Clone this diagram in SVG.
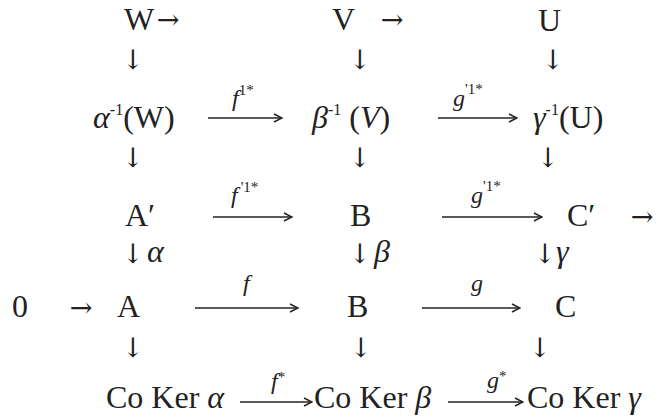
<svg xmlns="http://www.w3.org/2000/svg" width="656" height="419" viewBox="0 0 656 419">
<style>
text{font-family:"Liberation Serif","Times New Roman",serif;fill:#222;}
.n{font-size:32px;}
.b{font-size:32px;}
.i{font-style:italic;}
.sup{font-size:16px;}
.lab{font-size:24px;font-style:italic;}
.ls{font-size:15px;font-style:normal;}
.ar{font-family:"DejaVu Serif","DejaVu Sans",serif;font-size:27px;text-anchor:middle;fill:#222;}
.c{stroke:#222;stroke-width:1.6;fill:none;marker-end:url(#ah);}
</style>
<defs>
<marker id="ah" viewBox="0 0 10 10" refX="9" refY="5" markerWidth="10" markerHeight="10" markerUnits="userSpaceOnUse" orient="auto">
<path d="M1,1 L9,5 L1,9" fill="none" stroke="#222" stroke-width="1.4"/>
</marker>
</defs>
<rect width="656" height="419" fill="#fff"/>
<g id="connectors">
<line class="c" x1="208" y1="118" x2="282" y2="118"/>
<line class="c" x1="438" y1="118" x2="517" y2="118"/>
<line class="c" x1="213" y1="217" x2="292" y2="217"/>
<line class="c" x1="442" y1="217" x2="542" y2="217"/>
<line class="c" x1="195" y1="308" x2="298" y2="308"/>
<line class="c" x1="422" y1="308" x2="520" y2="308"/>
<line class="c" x1="240" y1="402" x2="312" y2="402"/>
<line class="c" x1="448" y1="402" x2="523" y2="402"/>
<text class="ar" x="168" y="29">→</text>
<text class="ar" x="392" y="29">→</text>
<text class="ar" x="133" y="69">↓</text>
<text class="ar" x="360" y="69">↓</text>
<text class="ar" x="553" y="69">↓</text>
<text class="ar" x="133" y="167">↓</text>
<text class="ar" x="360" y="167">↓</text>
<text class="ar" x="548" y="167">↓</text>
<text class="ar" x="133" y="263">↓</text>
<text class="ar" x="360" y="263">↓</text>
<text class="ar" x="545" y="263">↓</text>
<text class="ar" x="133" y="357">↓</text>
<text class="ar" x="361" y="357">↓</text>
<text class="ar" x="540" y="357">↓</text>
<text class="ar" x="642" y="226">→</text>
<text class="ar" x="81" y="317">→</text>
<text class="lab" x="232" y="106">f<tspan class="ls" dy="-11">1*</tspan></text>
<text class="lab" x="453" y="106">g<tspan class="ls" dy="-12">'1*</tspan></text>
<text class="lab" x="231" y="203">f<tspan class="ls" dx="3" dy="-11">'1*</tspan></text>
<text class="lab" x="471" y="203">g<tspan class="ls" dy="-12">'1*</tspan></text>
<text class="lab" x="243" y="291">f</text>
<text class="lab" x="471" y="291">g</text>
<text class="lab" x="271" y="389">f<tspan class="ls" dy="-7">*</tspan></text>
<text class="lab" x="487" y="388">g<tspan class="ls" dy="-7">*</tspan></text>
</g>
<g id="W"><text class="n" x="124" y="30">W</text></g>
<g id="V"><text class="n" x="332" y="30">V</text></g>
<g id="U"><text class="n" x="538" y="31">U</text></g>
<g id="alphaInvW"><text class="n" x="93" y="128"><tspan class="i">α</tspan><tspan class="sup" dy="-13">-1</tspan><tspan dy="13">(W)</tspan></text></g>
<g id="betaInvV"><text class="n" x="312" y="128"><tspan class="i">β</tspan><tspan class="sup" dy="-13">-1</tspan><tspan dy="13"> (</tspan><tspan class="i">V</tspan>)</text></g>
<g id="gammaInvU"><text class="n" x="533" y="128"><tspan class="i">γ</tspan><tspan class="sup" dy="-13">-1</tspan><tspan dy="13">(U)</tspan></text></g>
<g id="Aprime"><text class="n" x="125" y="226">A′</text></g>
<g id="B1"><text class="n" x="350" y="226">B</text></g>
<g id="Cprime"><text class="n" x="567" y="226">C′</text></g>
<g id="alphaLabel"><text class="n i" x="147" y="262">α</text></g>
<g id="betaLabel"><text class="n i" x="374" y="262">β</text></g>
<g id="gammaLabel"><text class="n i" x="556" y="262">γ</text></g>
<g id="zero"><text class="n" x="12" y="317">0</text></g>
<g id="A"><text class="n" x="117" y="317">A</text></g>
<g id="B2"><text class="n" x="347" y="317">B</text></g>
<g id="C"><text class="n" x="555" y="317">C</text></g>
<g id="CoKerAlpha"><text class="b" x="106" y="408">Co Ker <tspan class="i">α</tspan></text></g>
<g id="CoKerBeta"><text class="b" x="314" y="408">Co Ker <tspan class="i">β</tspan></text></g>
<g id="CoKerGamma"><text class="b" x="527" y="408">Co Ker <tspan class="i">γ</tspan></text></g>
</svg>
